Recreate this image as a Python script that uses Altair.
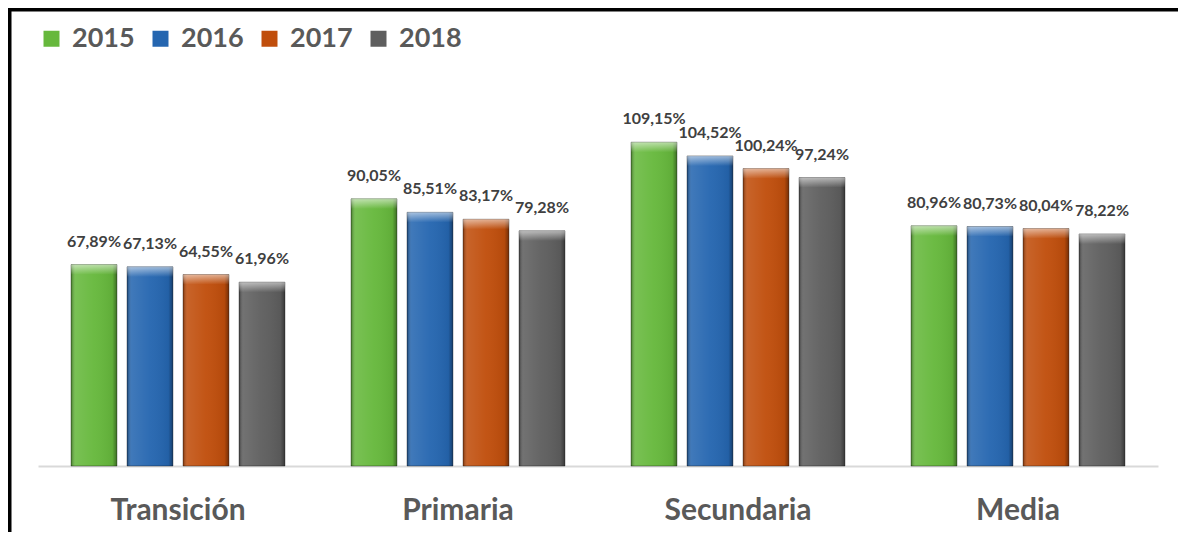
import altair as alt
import pandas as pd

categories = ["Transición", "Primaria", "Secundaria", "Media"]
years = ["2015", "2016", "2017", "2018"]
v2015 = [67.89, 90.05, 109.15, 80.96]
v2016 = [67.13, 85.51, 104.52, 80.73]
v2017 = [64.55, 83.17, 100.24, 80.04]
v2018 = [61.96, 79.28, 97.24, 78.22]
colors = ["#66b83c", "#2566b0", "#c04e0c", "#5e5e5e"]

series = [v2015, v2016, v2017, v2018]
rows = []
for yr, vals in zip(years, series):
    for cat, v in zip(categories, vals):
        rows.append({"cat": cat, "year": yr, "value": v})
df = pd.DataFrame(rows)

FONT = "Lato"

x_enc = alt.X("cat:N", sort=categories, title=None,
              scale=alt.Scale(paddingInner=0, paddingOuter=0),
              axis=alt.Axis(labelFont=FONT, labelFontSize=30, labelFontWeight="bold",
                            labelColor="#595959", labelPadding=29, ticks=False,
                            domainColor="#d9d9d9", domainWidth=2, labelAngle=0))
xo_enc = alt.XOffset("year:N", sort=years,
                     scale=alt.Scale(paddingInner=0.18, paddingOuter=0.59))
y_enc = alt.Y("value:Q", scale=alt.Scale(domain=[0, 120]), axis=None)

base = alt.Chart(df)

bars = base.mark_bar().encode(
    x=x_enc, xOffset=xo_enc, y=y_enc,
    color=alt.Color("year:N", sort=years,
                    scale=alt.Scale(domain=years, range=colors),
                    legend=alt.Legend(orient="none", legendX=0, legendY=-85,
                                      direction="horizontal", title=None,
                                      symbolType="square", symbolSize=256,
                                      symbolStrokeWidth=0, symbolOpacity=1,
                                      labelFont=FONT, labelFontSize=27,
                                      labelFontWeight="bold", labelColor="#595959",
                                      columnPadding=12, labelOffset=7, padding=0)),
)

shade = base.mark_bar(
    fill=alt.Gradient(gradient="linear", x1=0, x2=1, y1=0, y2=0, stops=[
        alt.GradientStop(offset=0, color="rgba(0,0,0,0.35)"),
        alt.GradientStop(offset=0.1, color="rgba(255,255,255,0.12)"),
        alt.GradientStop(offset=0.5, color="rgba(255,255,255,0.04)"),
        alt.GradientStop(offset=0.9, color="rgba(0,0,0,0.06)"),
        alt.GradientStop(offset=1, color="rgba(0,0,0,0.4)"),
    ]),
    stroke="rgba(0,0,0,0.35)", strokeWidth=1,
).encode(x=x_enc, xOffset=xo_enc, y=y_enc)

bevel = base.transform_calculate(bev="datum.value - 3.4").mark_bar(
    fill=alt.Gradient(gradient="linear", x1=0, x2=0, y1=0, y2=1, stops=[
        alt.GradientStop(offset=0, color="rgba(255,255,255,0.55)"),
        alt.GradientStop(offset=1, color="rgba(255,255,255,0.0)"),
    ]),
).encode(x=x_enc, xOffset=xo_enc, y=y_enc, y2="bev:Q")

labels = base.transform_calculate(
    lbl="replace(format(datum.value, '.2f'), '.', ',') + '%'"
).mark_text(font=FONT, fontSize=16, fontWeight="bold", color="#404040",
            baseline="alphabetic", dy=-18).encode(
    x=x_enc, xOffset=xo_enc, y=y_enc, text="lbl:N")

frame = alt.Chart(alt.Data(values=[{}]))
top_rule = frame.mark_rule(color="black", strokeWidth=5).encode(
    x=alt.value(-30), x2=alt.value(1140), y=alt.value(-101))
left_rule = frame.mark_rule(color="black", strokeWidth=5).encode(
    x=alt.value(-29), y=alt.value(-102), y2=alt.value(430))

chart = alt.layer(bars, shade, bevel, labels, top_rule, left_rule).properties(
    width=1120, height=356,
    padding={"left": 30, "top": 102, "right": 20, "bottom": 66},
    autosize=alt.AutoSizeParams(type="none"),
    background="white",
).configure_view(stroke=None)

chart.save("out.html", embed_options={"renderer": "svg", "actions": False})
